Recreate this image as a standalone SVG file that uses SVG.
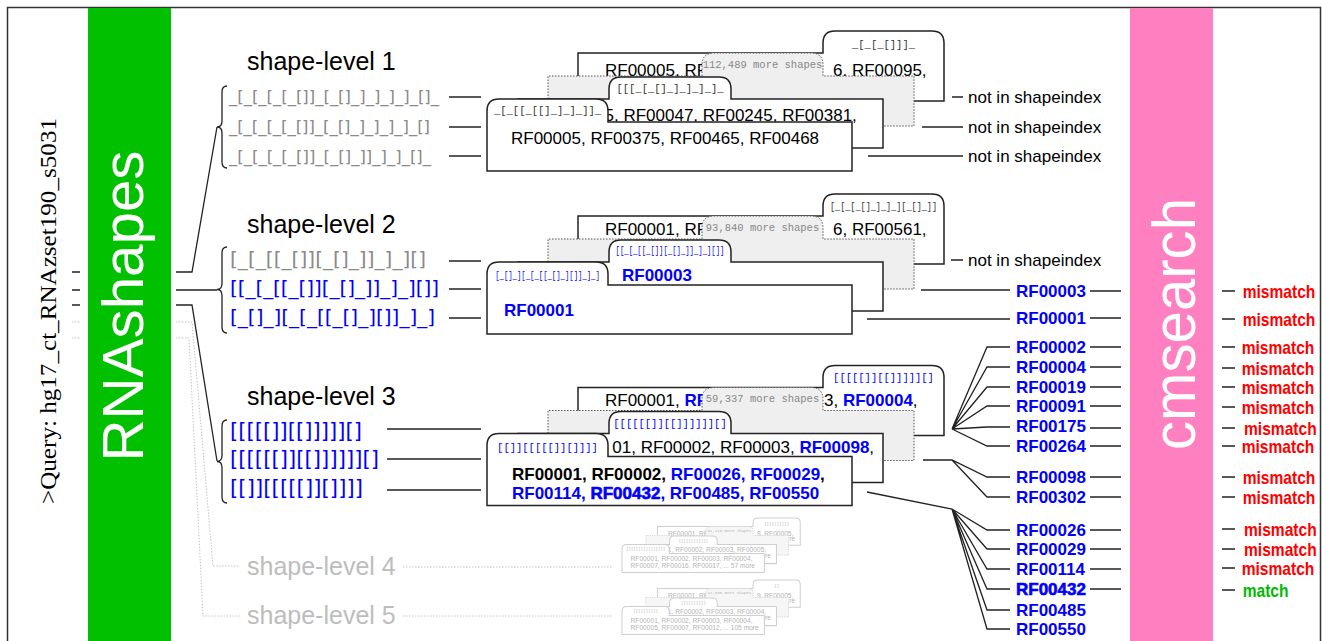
<svg xmlns="http://www.w3.org/2000/svg" width="1322" height="641" viewBox="0 0 1322 641">
<style>
text{font-family:"Liberation Sans",Arial,Helvetica,sans-serif}
.q{font-family:"Liberation Serif","Times New Roman",serif;font-size:24px;fill:#000}
.bar{font-size:57px;fill:#fff}
.lvl{font-size:25px;fill:#000}
.lvlg{font-size:25px;fill:#bdbdbd}
.shp{font-family:"DejaVu Sans",Verdana,sans-serif}
.card{fill:#fff;stroke:#222;stroke-width:1.5}
.more{fill:#efefef;stroke:#555;stroke-width:1;stroke-dasharray:1.5 1.5}
.tab{font-family:"Liberation Mono","Courier New",monospace;font-size:10.5px;fill:#333}
.mt{font-family:"Liberation Mono","Courier New",monospace;font-size:10.5px;fill:#888}
.body{font-size:17px;fill:#000}
.bold{font-weight:bold}
.xb{font-weight:bold;stroke:#0000ff;stroke-width:0.6}
.note{font-size:17px;fill:#000}
.rf{font-size:17px;font-weight:bold;fill:#0000ff}
.mm{font-size:17.5px;font-weight:bold;fill:#ff0000}
.ok{font-size:17.5px;font-weight:bold;fill:#00bb00}
.ln{stroke:#222;stroke-width:1.3;fill:none}
.dot{stroke:#c4c4c4;stroke-width:1;stroke-dasharray:1.5 1.5;fill:none}
.ghost{fill:#fff;stroke:#cfcfcf;stroke-width:2.6}
.ghostm{fill:#f6f6f6;stroke:#d6d6d6;stroke-width:2.6;stroke-dasharray:3 3}
.g{fill:#8a8a8a}
.b{fill:#0000ff}
.k{fill:#000}
.gt{fill:#b4b4b4}
</style>
<defs>
<path id="cBack" d="M578,101 V53 H823 V43 Q823,31 835,31 H932 Q944,31 944,43 V101 Z"/>
<path id="cMore" d="M548,126 V76 H702 V65 Q702,53 714,53 H811 Q823,53 823,65 V76 H914 V126 Z"/>
<path id="cMid" d="M518,148 V99 H609 V89 Q609,77 621,77 H719 Q731,77 731,89 V99 H883 V148 Z"/>
<path id="cFront" d="M487,171 V111 Q487,99 499,99 H596 Q608,99 608,111 V122 H852 V171 Z"/>
</defs>
<rect x="7.5" y="7.5" width="1313" height="650" fill="#fff" stroke="#333" stroke-width="1.5"/>

<g id="query">
<text class="q" transform="translate(56,311) rotate(-90)" text-anchor="middle" textLength="386" lengthAdjust="spacingAndGlyphs">&gt;Query: hg17_ct_RNAzset190_s5031</text>
</g>

<g id="rnashapes">
<rect x="88" y="8" width="83" height="633" fill="#00c000"/>
<text class="bar" transform="translate(143,306) rotate(-90)" text-anchor="middle" textLength="311" lengthAdjust="spacingAndGlyphs">RNAshapes</text>
</g>

<g id="cmsearch">
<rect x="1130" y="8" width="83" height="633" fill="#ff80c0"/>
<text class="bar" style="font-size:62px" transform="translate(1195,324) rotate(-90)" text-anchor="middle" textLength="252" lengthAdjust="spacingAndGlyphs">cmsearch</text>
</g>

<g id="connectors">
<path class="ln" d="M72,272 H80 M72,290 H80 M72,305 H80"/>
<path class="dot" d="M72,322 H80 M72,338 H80"/>
<path class="ln" d="M176,272 H192 L217,127 M176,290 H217 M176,305 H192 L217,461"/>
<path class="dot" d="M176,322 H192 L213,566 H240 M176,338 H189 L203,616 H240"/>
<path class="ln" d="M227,86 Q222,86 222,92 V121 Q222,127 217,127 Q222,127 222,133 V162 Q222,168 227,168"/>
<path class="ln" d="M227,247 Q222,247 222,253 V283.5 Q222,289.5 217,289.5 Q222,289.5 222,295.5 V327 Q222,333 227,333"/>
<path class="ln" d="M227,420 Q222,420 222,426 V455.5 Q222,461.5 217,461.5 Q222,461.5 222,467.5 V497 Q222,503 227,503"/>
<path class="ln" d="M449,97 H481 M449,127 H481 M449,156 H481"/>
<path class="ln" d="M449,261 H481 M449,289 H481 M449,318 H481"/>
<path class="ln" d="M387,429 H481 M387,459 H481 M387,490 H481"/>
<path class="dot" d="M403,567 H612 M403,616 H612"/>
<path class="ln" d="M952,97 H963 M922,127 H963 M868,156 H963"/>
<path class="ln" d="M951,260 H963 M921,290 H1010 M867,319 H1010"/>
<path class="ln" d="M952,429 L987,347 H1010 M952,429 L987,367 H1010 M952,429 L987,387 H1010 M952,429 L987,406 H1010 M952,429 L987,427 H1010 M952,429 L987,446 H1010"/>
<path class="ln" d="M923,460 H952 L987,477 H1010 M952,460 L987,497 H1010"/>
<path class="ln" d="M867,492 L952,509 L987,530 H1010 M952,509 L987,549 H1010 M952,509 L987,569 H1010 M952,509 L987,589 H1010 M952,509 L987,610 H1010 M952,509 L987,629 H1010"/>
<path class="ln" d="M1090,291 H1121 M1090,318 H1121 M1090,347 H1121 M1090,367 H1121 M1090,387 H1121 M1090,406 H1121 M1090,428 H1121 M1090,446 H1121 M1090,477 H1121 M1090,497 H1121 M1090,530 H1121 M1090,549 H1121 M1090,569 H1121 M1090,589 H1121"/>
<path class="ln" d="M1222,291 H1235 M1222,319 H1235 M1222,347 H1235 M1222,368 H1235 M1222,387 H1235 M1222,407 H1235 M1222,428 H1235 M1222,446 H1235 M1222,477 H1235 M1222,497 H1235 M1222,529 H1235 M1222,549 H1235 M1222,568 H1235 M1222,590 H1235"/>
</g>

<g id="level-1">
<text class="lvl" x="247" y="70">shape-level 1</text>
<text class="shp g" font-size="16.5" x="229" y="102" textLength="210" lengthAdjust="spacing">_[_[_[_[_[]]_[_[]_]_]_]_]_[]_</text>
<text class="shp g" font-size="16.5" x="229" y="132" textLength="201" lengthAdjust="spacing">_[_[_[_[_[]]_[_[]_]_]_]_]_[]</text>
<text class="shp g" font-size="16.5" x="229" y="161.5" textLength="202" lengthAdjust="spacing">_[_[_[_[_[]]_[_[]_]]_]_]_[]_</text>
</g>

<g id="stack-1">
<use href="#cBack" class="card"/>
<text class="tab" x="883.5" y="48" text-anchor="middle">_[_[_[]]]_</text>
<text class="body" x="605" y="76">RF00005, RF</text>
<text class="body" x="833" y="76">6, RF00095,</text>
<use href="#cMore" class="more"/>
<text class="mt" x="762.5" y="68" text-anchor="middle">112,489 more shapes</text>
<use href="#cMid" class="card"/>
<text class="tab" x="670" y="92" text-anchor="middle">[[[_[_[]_]_]_]_]_</text>
<text class="body" x="604.5" y="121">5, RF00047, RF00245, RF00381,</text>
<use href="#cFront" class="card"/>
<text class="tab" x="547.5" y="114" text-anchor="middle">_[_[[_[[]_]_]_]]_</text>
<text class="body" x="511" y="144">RF00005, RF00375, RF00465, RF00468</text>
</g>

<g id="notes">
<text class="note" x="968" y="103">not in shapeindex</text>
<text class="note" x="968" y="133">not in shapeindex</text>
<text class="note" x="968" y="161.5">not in shapeindex</text>
<text class="note" x="968" y="266">not in shapeindex</text>
</g>

<g id="level-2">
<text class="lvl" x="247" y="233">shape-level 2</text>
<text class="shp g" font-size="20" x="230" y="266" textLength="196" lengthAdjust="spacing">[_[_[[_[]][_[]_]]_]_][]</text>
<text class="shp b" font-size="20" x="230" y="295" textLength="209" lengthAdjust="spacing">[[_[_[[_[]][_[]_]]_]_][]]</text>
<text class="shp b" font-size="20" x="230" y="324" textLength="205" lengthAdjust="spacing">[_[]_][_[_[[_[]_][]]_]_]</text>
</g>

<g id="stack-2">
<use href="#cBack" class="card" y="163"/>
<text class="tab" transform="translate(883.5,209.5) scale(0.81,1)" text-anchor="middle">[_[_[_[]_]_]_][_[]_]]</text>
<text class="body" x="605" y="235">RF00001, RF</text>
<text class="body" x="833" y="235">6, RF00561,</text>
<use href="#cMore" class="more" y="163"/>
<text class="mt" x="762.5" y="231" text-anchor="middle">93,840 more shapes</text>
<use href="#cMid" class="card" y="163"/>
<text class="tab b" transform="translate(670,254) scale(0.692,1)" text-anchor="middle">[[_[_[[_[]][_[]_]]_]_][]]</text>
<text class="body bold b" x="622" y="281">RF00003</text>
<use href="#cFront" class="card" y="163"/>
<text class="tab b" transform="translate(547.5,278.5) scale(0.694,1)" text-anchor="middle">[_[]_][_[_[[_[]_][]]_]_]</text>
<text class="body bold b" x="504" y="316">RF00001</text>
</g>

<g id="level-3">
<text class="lvl" x="247" y="405">shape-level 3</text>
<text class="shp b" font-size="21" x="230" y="437.5" textLength="132" lengthAdjust="spacing">[[[[[]][[]]]]][]</text>
<text class="shp b" font-size="21" x="230" y="465.5" textLength="149" lengthAdjust="spacing">[[[[[[]][[]]]]]][]</text>
<text class="shp b" font-size="21" x="230" y="494.5" textLength="133" lengthAdjust="spacing">[[]][[[[[]][]]]]</text>
</g>

<g id="stack-3">
<use href="#cBack" class="card" y="334.5"/>
<text class="tab b" x="883.5" y="380.5" text-anchor="middle">[[[[[]][[]]]]][]</text>
<text class="body" x="605" y="406">RF00001, <tspan class="bold b">RF</tspan></text>
<text class="body" x="824" y="406">3, <tspan class="bold b">RF00004</tspan>,</text>
<use href="#cMore" class="more" y="334.5"/>
<text class="mt" x="762.5" y="401.5" text-anchor="middle">59,337 more shapes</text>
<use href="#cMid" class="card" y="334.5"/>
<text class="tab b" x="670" y="427" text-anchor="middle">[[[[[[]][[]]]]]][]</text>
<text class="body" x="612.3" y="453">01, RF00002, RF00003, <tspan class="bold b">RF00098</tspan>,</text>
<use href="#cFront" class="card" y="334.5"/>
<text class="tab b" x="547.5" y="451" text-anchor="middle">[[]][[[[[]][]]]]</text>
<text class="body bold" x="512" y="479.5">RF00001, RF00002, <tspan class="b">RF00026, RF00029</tspan>,</text>
<text class="body bold b" x="512" y="498.5">RF00114, <tspan class="xb">RF00432</tspan>, RF00485, RF00550</text>
</g>

<g id="level-4">
<text class="lvlg" x="247" y="575">shape-level 4</text>
</g>
<g id="stack-4" transform="translate(622,518) scale(0.39) translate(-487,-31)">
<use href="#cBack" class="ghost"/>
<text class="tab gt" x="883.5" y="48" text-anchor="middle">[[[[[]]]]]</text>
<text class="body gt" x="605" y="76">RF00001, RF</text>
<text class="body gt" x="833" y="76">8, RF00005,</text>
<text class="body gt" x="916" y="90">re</text>
<use href="#cMore" class="ghostm"/>
<text class="mt gt" x="762.5" y="68" text-anchor="middle">61,116 more shapes</text>
<use href="#cMid" class="ghost"/>
<text class="tab gt" x="670" y="92" text-anchor="middle">[[[[[[]]]]]]</text>
<text class="body gt" x="604.5" y="117">1, RF00002, RF00003, RF00005,</text>
<text class="body gt" x="854" y="134">re</text>
<use href="#cFront" class="ghost"/>
<text class="tab gt" x="547.5" y="114" text-anchor="middle">[[[[[[[[]]]]]]]]</text>
<text class="body gt" x="509" y="141">RF00001, RF00002, RF00003, RF00004,</text>
<text class="body gt" x="509" y="160">RF00007, RF00016, RF00017, ... 57 more</text>
</g>

<g id="level-5">
<text class="lvlg" x="247" y="624">shape-level 5</text>
</g>
<g id="stack-5" transform="translate(622,580) scale(0.39) translate(-487,-31)">
<use href="#cBack" class="ghost"/>
<text class="tab gt" x="883.5" y="48" text-anchor="middle">[]</text>
<text class="body gt" x="605" y="76">RF00001, RF</text>
<text class="body gt" x="833" y="76">9, RF00005,</text>
<text class="body gt" x="916" y="90">re</text>
<use href="#cMore" class="ghostm"/>
<text class="mt gt" x="762.5" y="68" text-anchor="middle">12,336 more shapes</text>
<use href="#cMid" class="ghost"/>
<text class="tab gt" x="670" y="92" text-anchor="middle">[[[[[]]]]]</text>
<text class="body gt" x="604.5" y="117">1, RF00002, RF00003, RF00004,</text>
<text class="body gt" x="854" y="134">re</text>
<use href="#cFront" class="ghost"/>
<text class="tab gt" x="547.5" y="114" text-anchor="middle">[[[[[]]]]]</text>
<text class="body gt" x="509" y="141">RF00001, RF00002, RF00003, RF00004,</text>
<text class="body gt" x="509" y="160">RF00005, RF00007, RF00012, ... 105 more</text>
</g>

<g id="rfam-hits">
<text class="rf" x="1016" y="297">RF00003</text>
<text class="rf" x="1016" y="324">RF00001</text>
<text class="rf" x="1016" y="353">RF00002</text>
<text class="rf" x="1016" y="373">RF00004</text>
<text class="rf" x="1016" y="393">RF00019</text>
<text class="rf" x="1016" y="412">RF00091</text>
<text class="rf" x="1016" y="432">RF00175</text>
<text class="rf" x="1016" y="452">RF00264</text>
<text class="rf" x="1016" y="483">RF00098</text>
<text class="rf" x="1016" y="503">RF00302</text>
<text class="rf" x="1016" y="536">RF00026</text>
<text class="rf" x="1016" y="555">RF00029</text>
<text class="rf" x="1016" y="575">RF00114</text>
<text class="rf" x="1016" y="595" stroke="#0000ff" stroke-width="0.6">RF00432</text>
<text class="rf" x="1016" y="616">RF00485</text>
<text class="rf" x="1016" y="635">RF00550</text>
</g>

<g id="results">
<text class="mm" transform="translate(1242.7,297.5) scale(0.89,1)">mismatch</text>
<text class="mm" transform="translate(1242.7,325.5) scale(0.89,1)">mismatch</text>
<text class="mm" transform="translate(1241.7,353.5) scale(0.89,1)">mismatch</text>
<text class="mm" transform="translate(1241.7,374.5) scale(0.89,1)">mismatch</text>
<text class="mm" transform="translate(1241.7,393.5) scale(0.89,1)">mismatch</text>
<text class="mm" transform="translate(1241.7,413.5) scale(0.89,1)">mismatch</text>
<text class="mm" transform="translate(1244,434.5) scale(0.89,1)">mismatch</text>
<text class="mm" transform="translate(1241.7,452.5) scale(0.89,1)">mismatch</text>
<text class="mm" transform="translate(1242.7,483.5) scale(0.89,1)">mismatch</text>
<text class="mm" transform="translate(1242.7,503.5) scale(0.89,1)">mismatch</text>
<text class="mm" transform="translate(1244,535.5) scale(0.89,1)">mismatch</text>
<text class="mm" transform="translate(1244,555.5) scale(0.89,1)">mismatch</text>
<text class="mm" transform="translate(1241.7,574.5) scale(0.89,1)">mismatch</text>
<text class="ok" transform="translate(1242.7,596.5) scale(0.89,1)">match</text>
</g>
</svg>
